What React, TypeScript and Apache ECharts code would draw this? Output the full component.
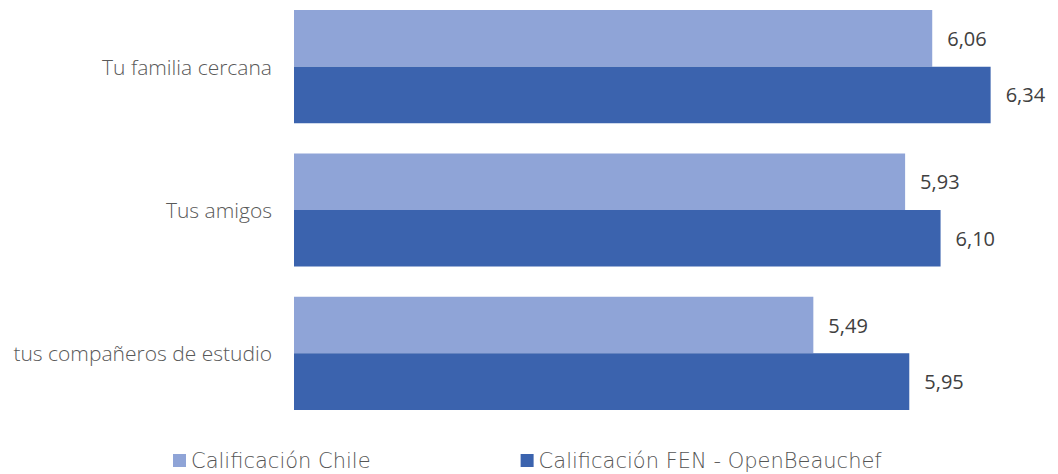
import React, { useEffect, useRef } from "react";
import * as echarts from "echarts";

const categories = ["tus compañeros de estudio", "Tus amigos", "Tu familia cercana"];
const seriesNames = ["Calificación Chile", "Calificación FEN - OpenBeauchef"];
const chileValues = [5.49, 5.93, 6.06];
const fenValues = [5.95, 6.1, 6.34];

const fmt = (v: number) => v.toFixed(2).replace(".", ",");

const valueLabel = {
  show: true,
  position: "right",
  distance: 15,
  color: "#404040",
  fontFamily: "Open Sans",
  fontSize: 20,
  formatter: (p: any) => fmt(p.value),
};

export default function App() {
  const ref = useRef<HTMLDivElement>(null);

  useEffect(() => {
    document.body.style.margin = "0";
    document.body.style.overflow = "hidden";
    const chart = echarts.init(ref.current!, null, { renderer: "svg" });
    chart.setOption({
      animation: false,
      grid: { left: 294, right: 34, top: 0, bottom: 49, containLabel: false },
      xAxis: {
        type: "value",
        min: 3,
        max: 6.5,
        show: false,
      },
      yAxis: {
        type: "category",
        data: categories,
        axisLine: { show: false },
        axisTick: { show: false },
        axisLabel: {
          margin: 22,
          color: "#595959",
          fontFamily: "Open Sans",
          fontWeight: 300,
          fontSize: 21,
        },
      },
      legend: {
        bottom: -2,
        left: 168,
        itemWidth: 13,
        itemHeight: 13,
        itemGap: 150,
        icon: "rect",
        textStyle: {
          color: "#555555",
          fontFamily: "DejaVu Sans",
          fontWeight: 200,
          fontSize: 21,
        },
        data: [seriesNames[0], seriesNames[1]],
      },
      series: [
        {
          name: seriesNames[0],
          type: "bar",
          data: chileValues,
          barGap: "0%",
          barCategoryGap: "21%",
          itemStyle: { color: "#8FA4D7" },
          label: valueLabel,
        },
        {
          name: seriesNames[1],
          type: "bar",
          data: fenValues,
          barGap: "0%",
          barCategoryGap: "21%",
          itemStyle: { color: "#3B63AE" },
          label: valueLabel,
        },
      ],
    });
    return () => chart.dispose();
  }, []);

  return <div ref={ref} style={{ width: 1058, height: 479, marginTop: -5 }} />;
}
